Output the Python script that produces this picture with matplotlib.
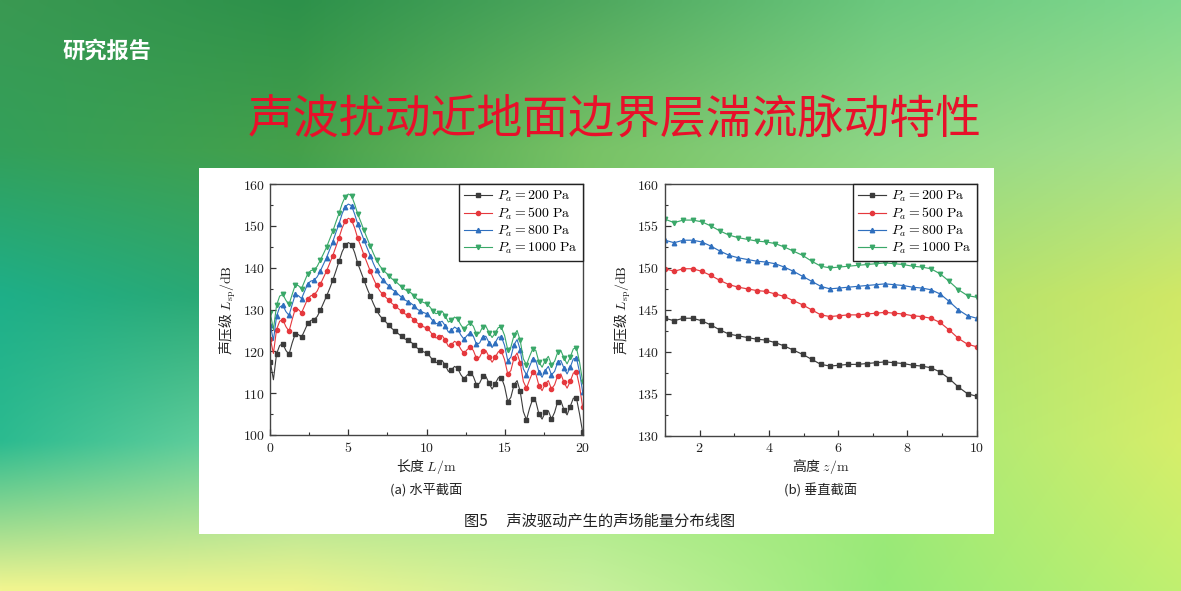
import numpy as np
import matplotlib
matplotlib.use("Agg")
import matplotlib.pyplot as plt
from matplotlib.patches import Rectangle
from matplotlib.ticker import MultipleLocator

plt.rcParams['font.family'] = ['Noto Sans CJK SC', 'DejaVu Sans']
plt.rcParams['mathtext.fontset'] = 'cm'
plt.rcParams['axes.unicode_minus'] = False

# ---------------- data ----------------
series_labels = [r"$P_a = 200\ \mathrm{Pa}$", r"$P_a = 500\ \mathrm{Pa}$",
                 r"$P_a = 800\ \mathrm{Pa}$", r"$P_a = 1000\ \mathrm{Pa}$"]

# (a) horizontal section, L = 0 ... 20 m, step 0.2 m
L_m = np.round(np.arange(0, 101) * 0.2, 1)
h_200 = [117.5, 113.2, 119.4, 121.4, 121.8, 120.2, 119.3, 122.0, 124.2, 124.0,
         123.4, 125.0, 126.7, 127.4, 127.6, 128.3, 129.8, 131.5, 133.2, 135.0,
         137.0, 139.2, 141.5, 143.8, 145.3, 146.0, 145.5, 143.6, 141.0, 139.0,
         137.0, 135.0, 133.2, 131.4, 129.8, 128.6, 127.7, 127.0, 126.2, 125.4,
         124.9, 124.2, 123.6, 123.0, 122.6, 122.2, 121.6, 120.8, 120.3, 119.9,
         119.6, 118.9, 117.9, 117.3, 117.5, 117.8, 116.7, 115.2, 115.6, 116.4,
         115.9, 114.4, 113.4, 114.3, 114.9, 114.0, 112.0, 112.4, 114.0, 114.0,
         112.4, 111.0, 112.3, 113.7, 113.7, 111.6, 108.0, 109.0, 112.0, 113.0,
         110.4, 105.6, 103.6, 106.4, 108.6, 108.0, 105.0, 103.8, 105.4, 105.8,
         103.8, 105.4, 108.0, 108.2, 106.0, 104.8, 106.8, 108.8, 108.8, 105.0,
         100.6]
h_500 = [123.0, 119.5, 125.2, 127.2, 127.6, 125.9, 124.8, 127.6, 130.2, 130.0,
         129.2, 130.9, 132.6, 133.3, 133.5, 134.4, 136.0, 137.6, 139.2, 141.0,
         142.9, 145.0, 147.2, 149.5, 151.1, 151.8, 151.4, 149.5, 147.0, 145.1,
         143.0, 141.1, 139.2, 137.4, 135.8, 134.5, 133.6, 132.9, 132.2, 131.4,
         130.9, 130.2, 129.6, 129.0, 128.6, 128.2, 127.6, 126.8, 126.3, 125.9,
         125.6, 124.9, 123.9, 123.2, 123.4, 123.8, 122.7, 121.2, 121.6, 122.4,
         121.9, 120.5, 119.5, 120.4, 121.0, 120.2, 118.3, 118.6, 120.1, 120.2,
         118.7, 117.4, 118.6, 119.9, 120.0, 118.0, 114.6, 115.4, 118.4, 119.6,
         117.2, 112.8, 111.2, 113.2, 115.0, 114.6, 111.8, 110.6, 112.2, 113.0,
         111.0, 112.0, 114.2, 114.6, 112.6, 111.2, 112.8, 114.8, 115.0, 111.6,
         106.6]
h_800 = [126.4, 122.6, 128.4, 130.6, 131.0, 129.5, 128.6, 131.2, 133.6, 133.3,
         132.6, 134.4, 136.2, 136.8, 137.0, 137.8, 139.2, 140.8, 142.4, 144.3,
         146.2, 148.4, 150.5, 152.9, 154.6, 155.2, 154.8, 152.8, 150.4, 148.6,
         146.6, 144.7, 142.9, 141.0, 139.4, 138.1, 137.1, 136.3, 135.6, 134.8,
         134.3, 133.6, 132.9, 132.3, 131.9, 131.5, 130.9, 130.1, 129.6, 129.3,
         129.0, 128.3, 127.3, 126.6, 126.8, 127.2, 126.1, 124.6, 125.0, 125.8,
         125.3, 123.9, 122.9, 123.8, 124.4, 123.6, 121.7, 122.0, 123.5, 123.6,
         122.1, 120.9, 122.1, 123.4, 123.4, 121.4, 117.8, 118.6, 121.6, 122.8,
         120.4, 115.8, 114.4, 116.4, 118.2, 117.8, 115.0, 113.8, 115.4, 116.4,
         114.4, 115.2, 117.4, 117.8, 116.0, 114.6, 116.2, 118.2, 118.4, 115.0,
         110.2]
h_1000 = [129.2, 125.2, 131.0, 133.2, 133.6, 132.2, 131.2, 133.6, 135.9, 135.7,
          135.0, 136.8, 138.6, 139.3, 139.5, 140.3, 141.8, 143.3, 144.9, 146.8,
          148.7, 150.9, 153.0, 155.3, 157.0, 157.6, 157.2, 155.2, 152.8, 150.9,
          148.9, 147.0, 145.2, 143.4, 141.8, 140.5, 139.5, 138.8, 138.1, 137.3,
          136.8, 136.1, 135.4, 134.8, 134.4, 134.0, 133.3, 132.5, 132.0, 131.7,
          131.4, 130.7, 129.7, 129.0, 129.2, 129.6, 128.5, 127.0, 127.4, 128.2,
          127.7, 126.3, 125.3, 126.2, 126.8, 126.0, 124.1, 124.4, 125.9, 126.0,
          124.5, 123.3, 124.4, 125.7, 125.7, 123.8, 120.4, 121.0, 123.8, 125.0,
          122.6, 118.2, 116.8, 118.8, 120.6, 120.2, 117.4, 116.2, 117.8, 118.8,
          116.8, 117.6, 119.8, 120.2, 118.4, 117.0, 118.6, 120.6, 120.8, 117.4,
          112.6]

# (b) vertical section, z = 1 ... 10 m, 35 stations
z_m = np.linspace(1, 10, 35)
v_200 = [144.0, 143.7, 144.0, 144.0, 143.7, 143.2, 142.6, 142.1, 141.9, 141.7,
         141.5, 141.4, 141.1, 140.7, 140.2, 139.7, 139.1, 138.5, 138.3, 138.4,
         138.5, 138.5, 138.6, 138.7, 138.8, 138.7, 138.6, 138.4, 138.3, 138.1,
         137.6, 136.8, 135.8, 135.0, 134.7]
v_500 = [149.9, 149.6, 149.9, 149.9, 149.6, 149.1, 148.5, 148.0, 147.7, 147.5,
         147.3, 147.2, 146.9, 146.6, 146.1, 145.6, 145.0, 144.4, 144.2, 144.3,
         144.4, 144.4, 144.5, 144.6, 144.7, 144.6, 144.5, 144.3, 144.2, 144.0,
         143.5, 142.6, 141.6, 140.9, 140.6]
v_800 = [153.3, 153.0, 153.3, 153.3, 153.1, 152.6, 152.0, 151.5, 151.2, 151.0,
         150.8, 150.7, 150.5, 150.1, 149.6, 149.0, 148.4, 147.8, 147.5, 147.6,
         147.7, 147.8, 147.9, 148.0, 148.1, 148.0, 147.9, 147.7, 147.6, 147.4,
         146.9, 146.0, 145.0, 144.3, 144.0]
v_1000 = [155.8, 155.4, 155.7, 155.7, 155.5, 155.0, 154.4, 153.9, 153.6, 153.4,
          153.2, 153.1, 152.9, 152.5, 152.0, 151.5, 150.8, 150.2, 150.0, 150.1,
          150.2, 150.3, 150.4, 150.5, 150.6, 150.5, 150.4, 150.2, 150.1, 149.9,
          149.3, 148.4, 147.4, 146.7, 146.5]

left_xticks = [0, 5, 10, 15, 20]
left_yticks = [100, 110, 120, 130, 140, 150, 160]
right_xticks = [2, 4, 6, 8, 10]
right_yticks = [130, 135, 140, 145, 150, 155, 160]

colors = ['#3b3b3b', '#e5383d', '#2f6fbe', '#3aa869']
markers = ['s', 'o', '^', 'v']
msizes = [2.6, 3.0, 3.2, 3.2]

W, H = 1181, 591
fig = plt.figure(figsize=(W / 100, H / 100), dpi=100)

# ---------------- background ----------------
bg = fig.add_axes([0, 0, 1, 1], zorder=-5)
grid_hex = [
    ['#3a9952', '#2d914a', '#4fa85e', '#6cc87e', '#80d88e'],
    ['#33a05a', '#45a04a', '#78c266', '#8ed686', '#a8e28c'],
    ['#1eaf88', '#2fa66c', '#7ac862', '#aae070', '#d0e866'],
    ['#2cbb90', '#78d6a0', '#98e680', '#a2e878', '#d6ee6a'],
    ['#f1f590', '#eef48e', '#c8f09c', '#96ea78', '#c0f070'],
]
grid = np.array([[matplotlib.colors.to_rgb(c) for c in row] for row in grid_hex])
ny, nx = 120, 240
gy = np.linspace(0, 4, ny)
gx = np.linspace(0, 4, nx)
tmp = np.empty((5, nx, 3))
for r in range(5):
    for ch in range(3):
        tmp[r, :, ch] = np.interp(gx, np.arange(5), grid[r, :, ch])
img = np.empty((ny, nx, 3))
for c in range(nx):
    for ch in range(3):
        img[:, c, ch] = np.interp(gy, np.arange(5), tmp[:, c, ch])
bg.imshow(img, extent=(0, W, H, 0), aspect='auto', interpolation='bilinear')
bg.set_xlim(0, W)
bg.set_ylim(H, 0)
bg.axis('off')
bg.add_patch(Rectangle((199, 168), 795, 366, facecolor='white', edgecolor='none'))

bg.text(62, 51, "研究报告", color='white', fontsize=16, fontweight='bold',
        ha='left', va='center')
bg.text(615, 120, "声波扰动近地面边界层湍流脉动特性", color='#e8102a',
        fontsize=33, ha='center', va='center')
bg.text(426, 466, r"长度 $L/\mathrm{m}$", fontsize=10, ha='center', va='center', color='#222222')
bg.text(426, 490, "(a) 水平截面", fontsize=9.5, ha='center', va='center', color='#222222')
bg.text(821, 466, r"高度 $z/\mathrm{m}$", fontsize=10, ha='center', va='center', color='#222222')
bg.text(821, 490, "(b) 垂直截面", fontsize=9.5, ha='center', va='center', color='#222222')
bg.text(600, 521, "图5\u3000 声波驱动产生的声场能量分布线图", fontsize=11,
        ha='center', va='center', color='#222222')
bg.text(228, 310, r"声压级 $L_{\mathrm{sp}}/\mathrm{dB}$", fontsize=10, rotation=90,
        ha='center', va='center', color='#222222')
bg.text(623, 310, r"声压级 $L_{\mathrm{sp}}/\mathrm{dB}$", fontsize=10, rotation=90,
        ha='center', va='center', color='#222222')


def px_axes(x0, x1, y0, y1):
    return fig.add_axes([x0 / W, (H - y1) / H, (x1 - x0) / W, (y1 - y0) / H])


def style(ax, xt, yt, xminor, yminor):
    ax.set_xticks(xt, labels=[f"${t}$" for t in xt])
    ax.set_yticks(yt, labels=[f"${t}$" for t in yt])
    ax.xaxis.set_minor_locator(MultipleLocator(xminor))
    ax.yaxis.set_minor_locator(MultipleLocator(yminor))
    ax.tick_params(which='both', direction='in', top=False, right=False,
                   labelsize=10, colors='#333333', labelcolor='#222222')
    ax.tick_params(which='major', length=4, width=0.9, pad=4)
    ax.tick_params(which='minor', length=2.3, width=0.8)
    for s in ax.spines.values():
        s.set_color('#444444')
        s.set_linewidth(1.0)
    leg = ax.legend(loc='upper right', borderaxespad=0, fontsize=10,
                    fancybox=False, framealpha=1, edgecolor='#222222',
                    handlelength=2.0, handletextpad=0.4, labelspacing=0.12,
                    borderpad=0.35)
    leg.get_frame().set_linewidth(1.0)


# ---------------- (a) ----------------
axa = px_axes(270.3, 582.7, 184, 435)
for ys, c, m, ms, lab in zip([h_200, h_500, h_800, h_1000], colors, markers, msizes, series_labels):
    axa.plot(L_m, ys, color=c, lw=0.8, marker=m, ms=ms, markevery=2, label=lab)
axa.set_xlim(0, 20)
axa.set_ylim(100, 160)
style(axa, left_xticks, left_yticks, 2.5, 5)

# ---------------- (b) ----------------
axb = px_axes(665, 976.7, 184, 435.7)
for ys, c, m, ms, lab in zip([v_200, v_500, v_800, v_1000], colors, markers, msizes, series_labels):
    axb.plot(z_m, ys, color=c, lw=0.85, marker=m, ms=ms, label=lab)
axb.set_xlim(1, 10)
axb.set_ylim(130, 160)
style(axb, right_xticks, right_yticks, 1, 2.5)

fig.savefig("out.png", dpi=100)
